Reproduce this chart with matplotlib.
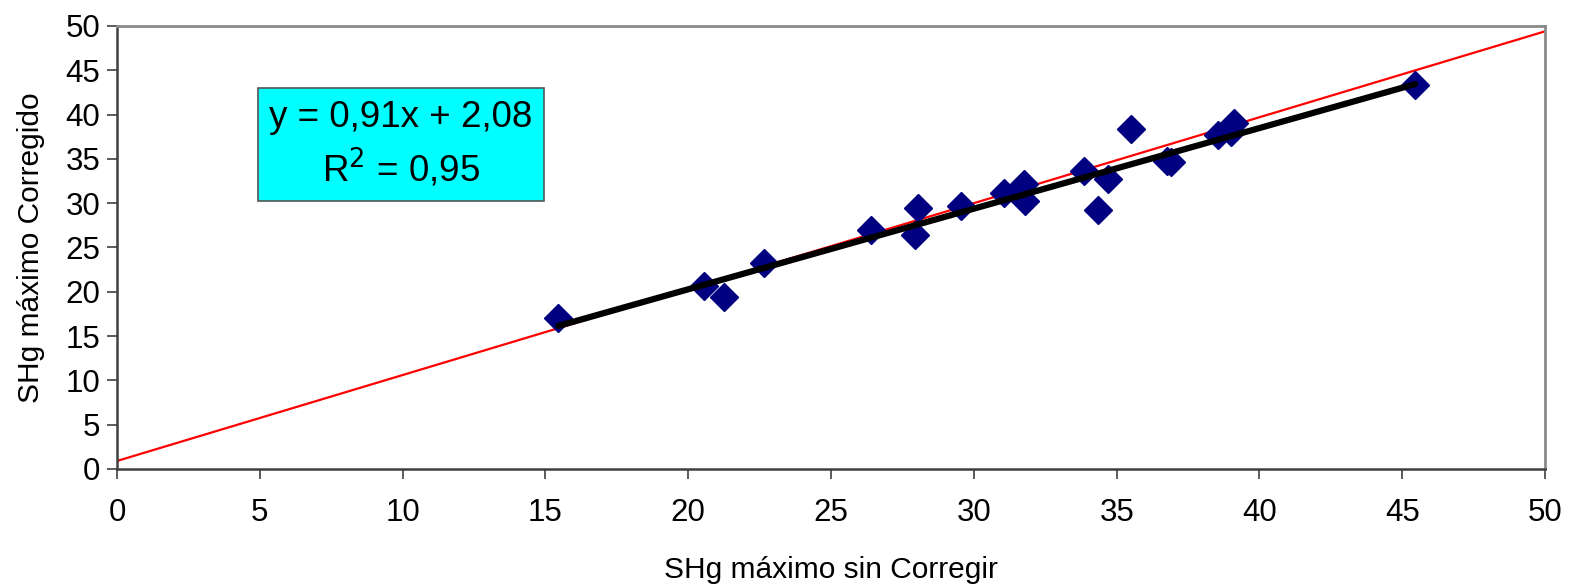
import numpy as np
import matplotlib.pyplot as plt

# Data
sin_corregir = [15.45, 20.55, 21.25, 22.65, 26.4, 27.95, 28.05, 29.55, 31.05, 31.75,
                31.8, 33.85, 34.35, 34.7, 35.5, 36.75, 36.9, 38.55, 39.0, 39.1, 45.45]
corregido = [17.0, 20.65, 19.4, 23.3, 27.0, 26.4, 29.4, 29.7, 31.2, 32.2,
             30.3, 33.6, 29.2, 32.7, 38.4, 34.8, 34.6, 37.7, 38.0, 39.0, 43.3]

# Trend line (from the chart label) and reference line
slope, intercept = 0.91, 2.08
ref_slope, ref_intercept = 0.97, 0.9
ticks = list(range(0, 55, 5))

plt.rcParams['font.family'] = ['Liberation Sans', 'DejaVu Sans']

fig = plt.figure(figsize=(15.72, 5.84), dpi=100)
ax = fig.add_axes([0.0744, 0.197, 0.9085, 0.7585])

x = np.array(sin_corregir)
y = np.array(corregido)

# red reference line across the whole range
xr = np.array([0, 50])
ax.plot(xr, ref_slope * xr + ref_intercept, color='red', lw=1.6, zorder=2)

ax.plot(x, y, linestyle='none', marker='D', markersize=14,
        color='#000080', zorder=3)

# black linear trend
xt = np.array([x.min(), x.max()])
ax.plot(xt, slope * xt + intercept, color='black', lw=4.5,
        solid_capstyle='round', zorder=4)

ax.set_xlim(0, 50)
ax.set_ylim(0, 50)
ax.set_xticks(ticks)
ax.set_yticks(ticks)
ax.tick_params(labelsize=22.5, direction='out', length=7, width=1.2, color='#404040')
ax.tick_params(axis='x', pad=14)
ax.tick_params(axis='y', pad=5)
for side in ['left', 'bottom']:
    ax.spines[side].set_color('#404040')
    ax.spines[side].set_linewidth(1.8)
for side in ['top', 'right']:
    ax.spines[side].set_color('#8a8a8a')
    ax.spines[side].set_linewidth(2)

ax.set_xlabel('SHg máximo sin Corregir', fontsize=21.5, labelpad=20)
ax.set_ylabel('SHg máximo Corregido', fontsize=21.5, labelpad=15)

ax.text(9.95, 36.6, 'y = 0,91x + 2,08\nR$^2$ = 0,95', fontsize=26.5,
        ha='center', va='center', linespacing=1.35, transform=ax.transData,
        bbox=dict(boxstyle='square,pad=0.3', facecolor='#00FFFF',
                  edgecolor='#555555', linewidth=1.2))

fig.savefig('out.png', dpi=100)
